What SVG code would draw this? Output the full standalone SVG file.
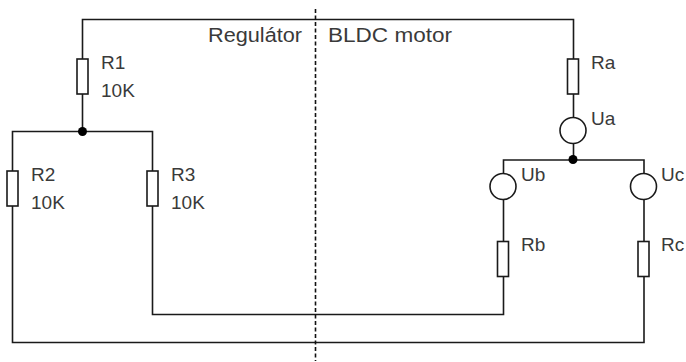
<svg xmlns="http://www.w3.org/2000/svg" width="686" height="362" viewBox="0 0 686 362">
<style>
.w{fill:none;stroke:#1a1a1a;stroke-width:1.6}
.c{fill:#fff;stroke:#1a1a1a;stroke-width:1.6}
.d{fill:#000}
text{font-family:"Liberation Sans",Arial,sans-serif;font-size:19px;fill:#3a3a3a}
.l{font-size:20px}
</style>
<rect width="686" height="362" fill="#fff"/>
<g id="connectors">
<path class="w" d="M82.5 131.5V19.5H573.5V160"/>
<path class="w" d="M12.5 342.5V131.5H152.5V314.5H503.5V160H644V342.5Z"/>
<path d="M315.5 9V361" fill="none" stroke="#111" stroke-width="1.6" stroke-dasharray="4 2.5"/>
</g>
<g id="R1"><rect class="c" x="77" y="59" width="11" height="35"/><text x="101" y="69">R1</text><text x="101" y="97">10K</text></g>
<g id="J1"><circle class="d" cx="82.5" cy="131.5" r="4.5"/></g>
<g id="R2"><rect class="c" x="7" y="171" width="11" height="35"/><text x="31" y="181">R2</text><text x="31" y="209">10K</text></g>
<g id="R3"><rect class="c" x="147" y="171" width="11" height="35"/><text x="171" y="181">R3</text><text x="171" y="209">10K</text></g>
<g id="Ra"><rect class="c" x="567.5" y="59" width="11" height="35"/><text x="591" y="69">Ra</text></g>
<g id="Ua"><circle class="c" cx="573" cy="130.5" r="13"/><text x="591" y="125">Ua</text></g>
<g id="J2"><circle class="d" cx="573" cy="159.5" r="4.5"/></g>
<g id="Ub"><circle class="c" cx="503" cy="186.5" r="13"/><text x="521" y="181">Ub</text></g>
<g id="Uc"><circle class="c" cx="643.5" cy="186.5" r="13"/><text x="661" y="181">Uc</text></g>
<g id="Rb"><rect class="c" x="497.5" y="241.5" width="11" height="35"/><text x="521" y="251">Rb</text></g>
<g id="Rc"><rect class="c" x="638" y="241.5" width="11" height="35"/><text x="661" y="251">Rc</text></g>
<g id="labels"><text class="l" x="208" y="42" textLength="94" lengthAdjust="spacingAndGlyphs">Regulátor</text><text class="l" x="328" y="42" textLength="124" lengthAdjust="spacingAndGlyphs">BLDC motor</text></g>
</svg>
